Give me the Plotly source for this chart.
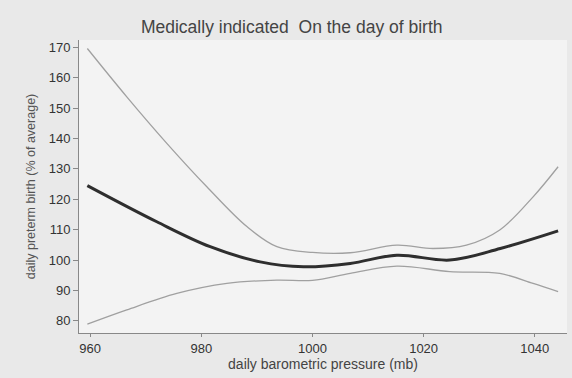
import plotly.graph_objects as go

pressure = [959.5, 972, 981.6, 990.6, 998.4, 1006.8, 1015.2, 1024.7, 1033.8, 1044.2]
estimate = [124.5, 112.6, 104.4, 99.4, 97.8, 98.9, 101.6, 100.0, 103.8, 109.6]

upper_x = [959.5, 966.6, 973.8, 981, 988.2, 993.6, 1000, 1006.8, 1015.2, 1021.7, 1027.7, 1033.7, 1039.7, 1044.2]
upper_y = [169.6, 153.7, 138.4, 124.1, 111, 104.4, 102.5, 102.4, 104.9, 103.8, 104.9, 109.9, 120.8, 130.7]

lower_x = [959.5, 966.6, 975.6, 984.6, 993.6, 1000, 1006.8, 1015.2, 1024.7, 1033.7, 1039.7, 1044.2]
lower_y = [78.9, 83.6, 89.0, 92.3, 93.4, 93.3, 95.6, 98.0, 96.2, 95.6, 92.3, 89.6]

x_ticks = [960, 980, 1000, 1020, 1040]
y_ticks = [80, 90, 100, 110, 120, 130, 140, 150, 160, 170]

fig = go.Figure()
fig.add_trace(go.Scatter(x=upper_x, y=upper_y, mode="lines",
                         line=dict(color="#a0a0a0", width=1.3, shape="spline"), showlegend=False))
fig.add_trace(go.Scatter(x=lower_x, y=lower_y, mode="lines",
                         line=dict(color="#a0a0a0", width=1.3, shape="spline"), showlegend=False))
fig.add_trace(go.Scatter(x=pressure, y=estimate, mode="lines",
                         line=dict(color="#2e2e2e", width=3, shape="spline"), showlegend=False))

axis_font = dict(family="Liberation Sans, Arial", size=13, color="#333333")
fig.update_layout(
    width=572, height=378,
    margin=dict(l=79, r=5, t=40, b=45),
    paper_bgcolor="#e9e9e9",
    plot_bgcolor="#f3f3f3",
    title=dict(text="Medically indicated  On the day of birth", x=0.51, xanchor="center",
               y=0.93, yanchor="middle",
               font=dict(family="Liberation Sans, Arial", size=17.5, color="#444444")),
    xaxis=dict(range=[958.0, 1045.8], tickvals=x_ticks, showgrid=False, zeroline=False,
               automargin=False,
               showline=True, linecolor="#888888", linewidth=1, ticks="outside", ticklen=3,
               tickcolor="#888888", tickfont=axis_font,
               title=dict(text="daily barometric pressure (mb)", standoff=0,
                          font=dict(family="Liberation Sans, Arial", size=14, color="#444444"))),
    yaxis=dict(range=[76, 172.4], tickvals=y_ticks, showgrid=False, zeroline=False,
               automargin=False,
               showline=True, linecolor="#888888", linewidth=1, ticks="outside", ticklen=5,
               tickcolor="#888888", tickfont=axis_font,
               title=dict(text="daily preterm birth (% of average)", standoff=10,
                          font=dict(family="Liberation Sans, Arial", size=12.5, color="#555555"))),
)
fig.write_html("out.html", config={"displayModeBar": False},
               post_script="document.body.style.margin='0';")
